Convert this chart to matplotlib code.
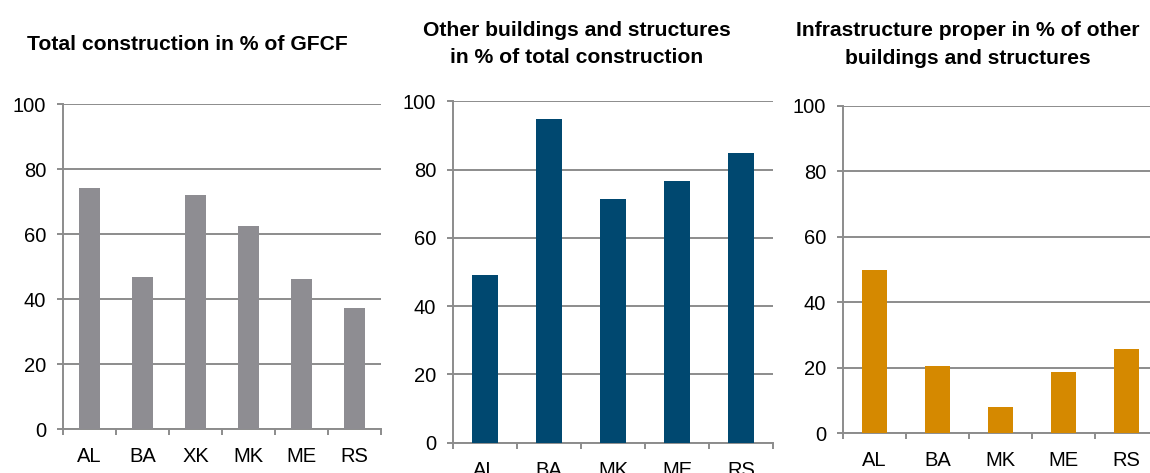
import matplotlib as mpl
mpl.use('Agg')
import matplotlib.pyplot as plt
import numpy as np

plt.rcParams['font.family'] = ['Liberation Sans', 'DejaVu Sans']

# panel data
gfcf_countries = ['AL', 'BA', 'XK', 'MK', 'ME', 'RS']
gfcf_values = [74.2, 46.8, 72.1, 62.6, 46.4, 37.3]

other_countries = ['AL', 'BA', 'MK', 'ME', 'RS']
other_values = [49.1, 94.9, 71.4, 76.8, 84.9]

infra_countries = ['AL', 'BA', 'MK', 'ME', 'RS']
infra_values = [49.7, 20.4, 8.1, 18.6, 25.6]

titles = ['Total construction in % of GFCF',
          'Other buildings and structures\nin % of total construction',
          'Infrastructure proper in % of other\nbuildings and structures']
colors = ['#8e8d92', '#004870', '#d58900']
grid_color = '#8c8c8c'

W, H = 1150, 473
fig = plt.figure(figsize=(W / 100, H / 100), dpi=100)


def px_axes(left, right, top, bottom):
    return fig.add_axes([left / W, (H - bottom) / H, (right - left) / W, (bottom - top) / H])


def draw_panel(ax, cats, vals, color):
    x = np.arange(len(cats))
    ax.bar(x, vals, width=0.4, color=color, zorder=3)
    ax.set_xlim(-0.5, len(cats) - 0.5)
    ax.set_ylim(0, 100)
    ax.set_yticks([0, 20, 40, 60, 80, 100])
    ax.set_xticks(x)
    ax.set_xticklabels(cats)
    ax.set_xticks(np.arange(len(cats) + 1) - 0.5, minor=True)
    ax.grid(axis='y', color=grid_color, linewidth=1.4, zorder=0)
    for s in ['top', 'right']:
        ax.spines[s].set_visible(False)
    for s in ['left', 'bottom']:
        ax.spines[s].set_color(grid_color)
        ax.spines[s].set_linewidth(1.4)
    ax.tick_params(axis='x', which='major', length=0, pad=13, labelsize=14.5)
    ax.tick_params(axis='x', which='minor', length=4, width=1.4, color=grid_color)
    ax.tick_params(axis='y', length=4, width=1.4, color=grid_color, pad=8, labelsize=14.5)


ax1 = px_axes(63, 381, 104.3, 429.3)
draw_panel(ax1, gfcf_countries, gfcf_values, colors[0])
ax2 = px_axes(453, 773, 101.3, 442.7)
draw_panel(ax2, other_countries, other_values, colors[1])
ax3 = px_axes(842.7, 1158, 105.7, 433.3)
draw_panel(ax3, infra_countries, infra_values, colors[2])

fig.text(187 / W, 1 - 44 / H, titles[0], ha='center', va='center',
         fontsize=15.2, fontweight='bold')
fig.text(577 / W, 1 - 44 / H, titles[1], ha='center', va='center',
         fontsize=15.2, fontweight='bold', linespacing=1.55)
fig.text(968 / W, 1 - 44 / H, titles[2], ha='center', va='center',
         fontsize=15.2, fontweight='bold', linespacing=1.6)

fig.savefig('out.png', dpi=100)
